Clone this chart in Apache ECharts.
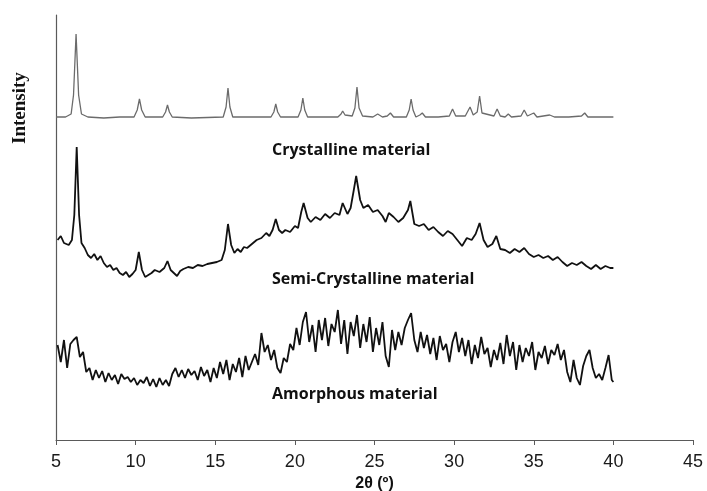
<!DOCTYPE html>
<html>
<head>
<meta charset="utf-8">
<script src="https://cdn.jsdelivr.net/npm/echarts@6/dist/echarts.min.js"></script>
<style>
  html, body { margin: 0; padding: 0; background: #fff; }
  #chart { width: 707px; height: 491px; }
</style>
</head>
<body>
<div id="chart"></div>
<script>
// x ticks (2θ, degrees)
const thetaTicks = [5, 10, 15, 20, 25, 30, 35, 40, 45];

// stacked, offset traces: [2θ, intensity (arb. units incl. offset)]
const crystalline = [
  [5.0,323],[5.6,323],[5.95,326],[6.1,345],[6.26,406],[6.42,345],[6.6,326],[7.0,323],[8.0,322],[9.0,323],
  [9.9,323],[10.1,330],[10.24,341],[10.38,330],[10.6,323],[11.7,323],[11.88,328],[12.0,335],[12.12,328],[12.3,323],
  [13.5,322],[15.5,323],[15.68,333],[15.8,352],[15.92,333],[16.1,323],[18.5,323],[18.68,328],[18.8,336],[18.92,328],
  [19.1,323],[20.2,323],[20.38,330],[20.5,342],[20.62,330],[20.8,323],[22.7,323],[22.9,326],[23.0,329],[23.15,325],
  [23.6,324],[23.77,332],[23.9,353],[24.03,332],[24.25,324],[24.9,323],[25.2,326],[25.5,323],[25.8,324],[26.0,327],
  [26.2,323],[27.0,323],[27.18,330],[27.3,341],[27.42,330],[27.6,323],[27.85,325],[28.0,327],[28.2,323],[29.0,323],
  [29.7,324],[29.9,331],[30.1,324],[30.7,324],[31.0,333],[31.2,325],[31.45,328],[31.6,344],[31.75,327],[32.5,324],
  [32.7,331],[32.9,324],[33.2,323],[33.4,326],[33.6,323],[34.2,324],[34.4,330],[34.6,324],[35.0,327],[35.2,323],
  [36.0,325],[36.3,323],[37.2,323],[38.0,324],[38.2,327],[38.4,323],[40.0,323]
];

const semiCrystalline = [
  [5.1,200],[5.3,204],[5.5,197],[5.8,195],[6.0,200],[6.15,225],[6.3,293],[6.45,225],[6.6,197],[6.8,192],
  [7.0,185],[7.2,182],[7.4,186],[7.6,180],[7.8,184],[8.0,177],[8.2,173],[8.4,175],[8.6,170],[8.8,172],
  [9.0,167],[9.2,165],[9.4,168],[9.6,163],[9.8,166],[10.0,170],[10.2,188],[10.4,170],[10.6,163],[10.8,165],
  [11.0,167],[11.2,170],[11.5,168],[11.8,172],[12.0,179],[12.2,170],[12.4,167],[12.6,164],[12.8,169],[13.0,171],
  [13.3,173],[13.6,172],[13.9,175],[14.2,174],[14.5,176],[14.8,177],[15.1,178],[15.4,180],[15.6,190],[15.8,216],
  [16.0,195],[16.2,187],[16.4,191],[16.6,188],[16.8,193],[17.0,192],[17.3,196],[17.6,200],[17.9,202],[18.2,207],
  [18.4,204],[18.6,210],[18.8,221],[19.0,210],[19.2,207],[19.4,210],[19.7,208],[20.0,214],[20.2,212],[20.4,228],
  [20.55,237],[20.8,222],[21.0,218],[21.3,223],[21.6,220],[21.9,226],[22.2,222],[22.5,227],[22.8,225],[23.0,237],
  [23.3,226],[23.5,232],[23.7,250],[23.85,264],[24.1,240],[24.3,232],[24.6,235],[24.9,228],[25.2,230],[25.5,224],
  [25.7,218],[25.9,227],[26.2,223],[26.5,218],[26.8,222],[27.1,230],[27.25,239],[27.5,216],[27.8,214],[28.1,216],
  [28.4,210],[28.7,213],[29.0,208],[29.3,204],[29.6,209],[29.9,206],[30.2,200],[30.5,194],[30.8,202],[31.1,200],
  [31.35,206],[31.6,217],[31.85,200],[32.1,193],[32.4,196],[32.65,204],[32.9,191],[33.2,190],[33.5,187],[33.8,191],
  [34.1,188],[34.4,192],[34.7,186],[35.0,183],[35.3,185],[35.6,182],[35.9,184],[36.2,180],[36.5,183],[36.8,178],
  [37.1,174],[37.4,177],[37.7,175],[38.0,178],[38.3,174],[38.6,171],[38.9,175],[39.2,171],[39.5,174],[39.8,172],
  [40.0,172]
];

const amorphous = [
  [5.1,95],[5.3,78],[5.5,100],[5.7,72],[5.9,96],[6.1,100],[6.3,103],[6.5,83],[6.7,88],[6.9,68],
  [7.1,72],[7.3,60],[7.5,70],[7.7,62],[7.9,69],[8.1,58],[8.3,67],[8.5,60],[8.7,65],[8.9,56],
  [9.1,66],[9.3,61],[9.5,63],[9.7,58],[9.9,62],[10.1,55],[10.3,60],[10.5,57],[10.7,63],[10.9,54],
  [11.1,61],[11.3,53],[11.5,62],[11.7,55],[11.9,60],[12.1,54],[12.3,66],[12.5,72],[12.7,63],[12.9,70],
  [13.1,62],[13.3,71],[13.5,65],[13.7,69],[13.9,60],[14.1,73],[14.3,64],[14.5,70],[14.7,58],[14.9,72],
  [15.1,62],[15.3,78],[15.5,66],[15.7,80],[15.9,60],[16.1,76],[16.3,68],[16.5,82],[16.7,63],[16.9,84],
  [17.1,70],[17.3,78],[17.5,86],[17.7,75],[17.9,107],[18.1,88],[18.3,95],[18.5,80],[18.7,90],[18.9,72],
  [19.1,67],[19.3,82],[19.5,78],[19.7,96],[19.9,90],[20.1,112],[20.3,95],[20.5,118],[20.7,128],[20.9,98],
  [21.1,115],[21.3,88],[21.5,120],[21.7,100],[21.9,122],[22.1,94],[22.3,116],[22.5,108],[22.7,130],[22.9,96],
  [23.1,120],[23.3,86],[23.5,118],[23.7,104],[23.9,125],[24.1,92],[24.3,116],[24.5,98],[24.7,123],[24.9,88],
  [25.1,112],[25.3,95],[25.5,118],[25.7,84],[25.9,73],[26.1,110],[26.3,90],[26.5,108],[26.7,95],[26.9,112],
  [27.1,120],[27.3,127],[27.5,100],[27.7,88],[27.9,108],[28.1,92],[28.3,105],[28.5,86],[28.7,102],[28.9,80],
  [29.1,104],[29.3,90],[29.5,96],[29.7,78],[29.9,98],[30.1,108],[30.3,88],[30.5,102],[30.7,84],[30.9,100],
  [31.1,76],[31.3,95],[31.5,82],[31.7,103],[31.9,86],[32.1,92],[32.3,73],[32.5,90],[32.7,80],[32.9,97],
  [33.1,76],[33.3,105],[33.5,84],[33.7,98],[33.9,70],[34.1,95],[34.3,78],[34.5,92],[34.7,84],[34.9,98],
  [35.1,70],[35.3,88],[35.5,82],[35.7,94],[35.9,76],[36.1,90],[36.3,85],[36.5,96],[36.7,80],[36.9,90],
  [37.1,68],[37.3,58],[37.5,80],[37.7,62],[37.9,55],[38.1,74],[38.3,84],[38.5,90],[38.7,72],[38.9,62],
  [39.1,66],[39.3,60],[39.5,72],[39.7,85],[39.9,60],[40.0,58]
];

const traceLabels = ['Crystalline material', 'Semi-Crystalline material', 'Amorphous material'];

const chart = echarts.init(document.getElementById('chart'));

const labelFont = { fontFamily: 'Open Sans', fontWeight: 'bold', fontSize: 16, fill: '#111' };
const axisGray = '#5a5a5a';

const option = {
  animation: false,
  backgroundColor: '#fff',
  grid: { left: 56, right: 14, top: 15, bottom: 51, outerBoundsMode: 'none' },
  xAxis: {
    type: 'value',
    min: 5,
    max: 45,
    interval: 5,
    name: '2θ (º)',
    nameLocation: 'middle',
    nameGap: 33,
    nameTextStyle: { fontFamily: 'Liberation Sans', fontWeight: 'bold', fontSize: 16, color: '#111' },
    axisLine: { lineStyle: { color: axisGray, width: 1.2 } },
    axisTick: { show: true, length: 5, lineStyle: { color: axisGray } },
    axisLabel: {
      fontFamily: 'Liberation Sans', fontSize: 18, color: '#1a1a1a', margin: 13,
      formatter: v => thetaTicks.includes(v) ? String(v) : ''
    },
    splitLine: { show: false }
  },
  yAxis: {
    type: 'value',
    min: 0,
    max: 425,
    axisLine: { show: true, lineStyle: { color: axisGray, width: 1.2 } },
    axisTick: { show: false },
    axisLabel: { show: false },
    splitLine: { show: false }
  },
  graphic: [
    {
      type: 'text', x: 11, y: 144, rotation: Math.PI / 2,
      style: { text: 'Intensity', fontFamily: 'Liberation Serif', fontWeight: 'bold', fontSize: 19, fill: '#111' }
    },
    { type: 'text', left: 272, top: 142, style: Object.assign({ text: traceLabels[0] }, labelFont) },
    { type: 'text', left: 272, top: 271, style: Object.assign({ text: traceLabels[1] }, labelFont) },
    { type: 'text', left: 272, top: 386, style: Object.assign({ text: traceLabels[2] }, labelFont) }
  ],
  series: [
    {
      name: traceLabels[0], type: 'line', data: crystalline, showSymbol: false,
      lineStyle: { color: '#6b6b6b', width: 1.3 }
    },
    {
      name: traceLabels[1], type: 'line', data: semiCrystalline, showSymbol: false,
      lineStyle: { color: '#111', width: 1.8 }
    },
    {
      name: traceLabels[2], type: 'line', data: amorphous, showSymbol: false,
      lineStyle: { color: '#111', width: 1.8 }
    }
  ]
};

chart.setOption(option);
</script>
</body>
</html>
